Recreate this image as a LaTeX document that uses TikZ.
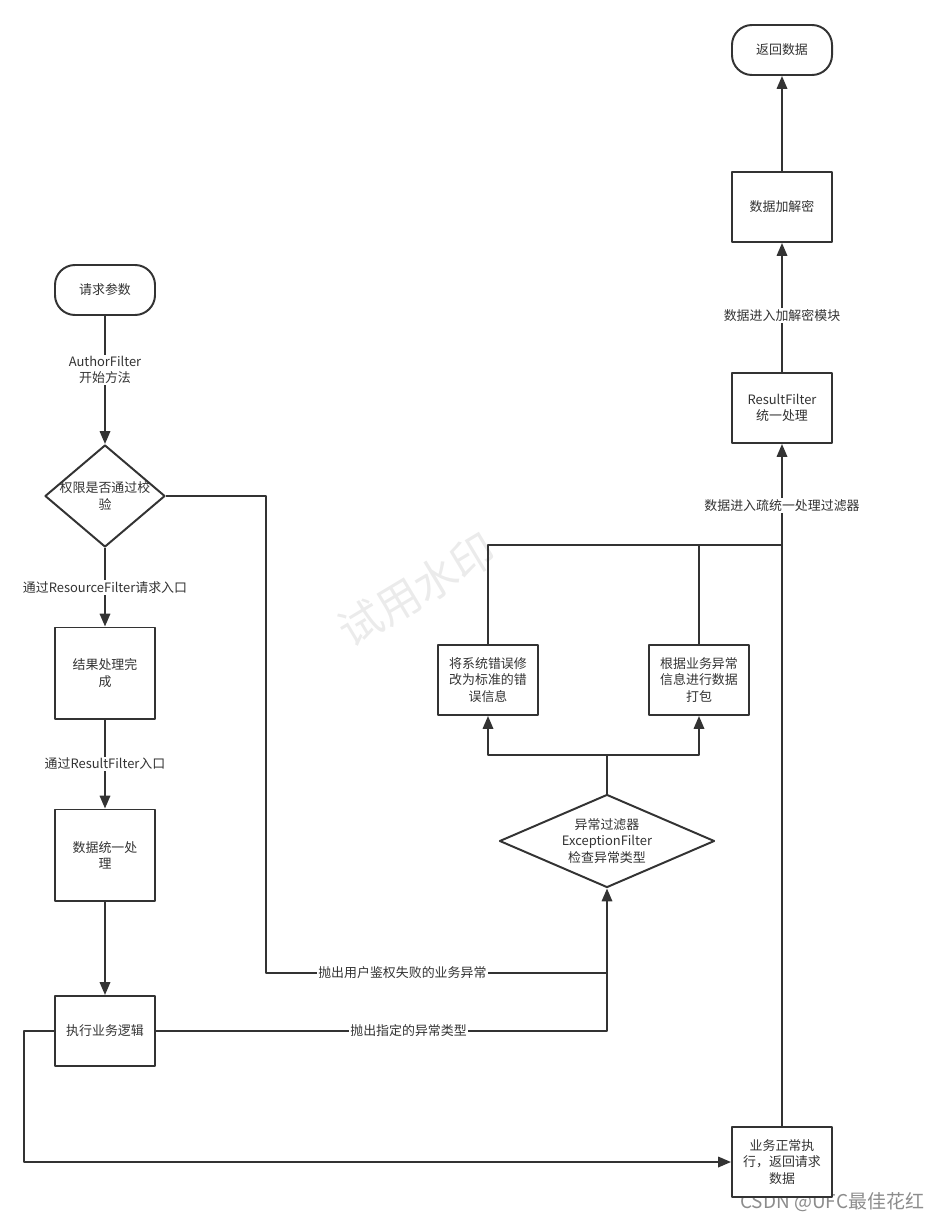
\documentclass[tikz,border=0pt]{standalone}
\usepackage{fontspec}
\setmainfont{Noto Sans CJK SC}
\usetikzlibrary{arrows.meta, shapes.geometric}

\begin{document}
\begin{tikzpicture}[x=0.025cm, y=-0.025cm, line join=round,
  every node/.style={font=\fontsize{9.2}{11.5}\selectfont, text=black!80},
  flow/.style={draw=black!80, line width=1.4pt},
  arr/.style={flow, -{Triangle[length=0.32cm, width=0.26cm]}},
  lbl/.style={fill=white, align=center, inner sep=1pt},
  box/.style={draw=black!80, line width=1.4pt, fill=white, align=center, minimum width=2.5cm, minimum height=1.75cm, inner sep=2pt},
  tallbox/.style={box, minimum height=2.275cm},
  term/.style={box, rounded corners=0.5cm, minimum height=1.25cm},
  decide/.style={draw=black!80, line width=1.4pt, fill=white, diamond, inner sep=0pt}]
\useasboundingbox (0,0) rectangle (942,1223);
% watermarks
\node[font=\fontsize{31}{33}\selectfont, text=black!8, rotate=31] (wm) at (417,590) {试用水印};
\node[font=\fontsize{13.5}{15}\selectfont, text=black!45, anchor=east] (csdn) at (929,1202) {CSDN @UFC最佳花红};
% left column
\node[term] (start) at (105,290) {请求参数};
\node[decide, minimum width=3cm, minimum height=2.55cm, label={[align=center]center:权限是否通过校\\验}] (auth) at (105,496) {};
\node[tallbox] (done) at (105,673) {结果处理完\\成};
\node[tallbox] (unify) at (105,855) {数据统一处\\理};
\node[box] (exec) at (105,1031) {执行业务逻辑};
% exception branch
\node[decide, minimum width=5.375cm, minimum height=2.325cm, label={[align=center]center:异常过滤器\\ExceptionFilter\\检查异常类型}] (exc) at (607,841) {};
\node[box] (fix) at (488,680) {将系统错误修\\改为标准的错\\误信息};
\node[box] (pack) at (699,680) {根据业务异常\\信息进行数据\\打包};
\coordinate (split) at (607,755);
\coordinate (j1) at (607,973);
\coordinate (j2) at (782,545);
% right column
\node[box] (normal) at (782,1162) {业务正常执\\行，返回请求\\数据};
\node[box] (rfilter) at (782,408) {ResultFilter\\统一处理};
\node[box] (crypt) at (782,207) {数据加解密};
\node[term] (ret) at (782,50) {返回数据};

\draw[arr] (start) -- node[lbl, pos=0.42] {AuthorFilter\\开始方法} (auth);
\draw[arr] (auth) -- node[lbl] {通过ResourceFilter请求入口} (done);
\draw[arr] (done) -- node[lbl] {通过ResultFilter入口} (unify);
\draw[arr] (unify) -- (exec);
\draw[flow] (auth.east) -- ++(100,0) |- node[lbl, pos=0.7] {抛出用户鉴权失败的业务异常} (j1);
\draw[arr] (exec.east) -| node[lbl, pos=0.28] {抛出指定的异常类型} (exc.south);
\draw[arr] (exec.west) -- ++(-30,0) |- (normal.west);
\draw[flow] (exc.north) -- (split);
\draw[arr] (split) -| (fix.south);
\draw[arr] (split) -| (pack.south);
\draw[flow] (fix.north) |- (j2);
\draw[flow] (pack.north) |- (j2);
\draw[arr] (normal.north) -- node[lbl, pos=0.91] {数据进入疏统一处理过滤器} (rfilter.south);
\draw[arr] (rfilter) -- node[lbl, pos=0.44] {数据进入加解密模块} (crypt);
\draw[arr] (crypt) -- (ret);
\end{tikzpicture}
\end{document}
